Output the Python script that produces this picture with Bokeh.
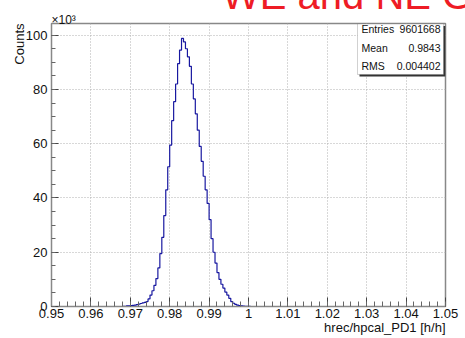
import numpy as np
from bokeh.plotting import figure
from bokeh.models import BoxAnnotation, FixedTicker, Range1d, Title, Div, Label
from bokeh.layouts import column
from bokeh.embed import file_html
from bokeh.resources import INLINE

# ---- data (counts in units of 10^3), histogram 0.95..1.05, bin width 0.0005 ----
x_lo, x_hi, bin_w = 0.95, 1.05, 0.0005
peak_lo = 0.968  # first bin centre with visible content
peak_counts = [0.1, 0.1, 0.2, 0.2, 0.3, 0.4, 0.5, 0.7, 0.9, 1.1,
               1.3, 1.5, 1.8, 2.8, 4.2, 5.8, 7.8, 10.3, 14.2, 19.5,
               25.5, 33.5, 43.0, 51.5, 59.5, 68.5, 75.5, 82.0, 89.5, 94.5,
               98.8, 97.5, 95.0, 92.0, 88.5, 82.0, 76.5, 71.0, 65.0, 59.0,
               53.5, 48.0, 43.0, 38.0, 32.0, 25.0, 20.0, 16.0, 12.5, 10.0,
               8.2, 6.8, 5.3, 4.2, 3.0, 1.8, 1.2, 0.8, 0.5, 0.35,
               0.25, 0.15, 0.1, 0.08, 0.05]
x_ticks = [0.95, 0.96, 0.97, 0.98, 0.99, 1.0, 1.01, 1.02, 1.03, 1.04, 1.05]
x_tick_labels = ["0.95", "0.96", "0.97", "0.98", "0.99", "1", "1.01", "1.02", "1.03", "1.04", "1.05"]
y_ticks = [0, 20, 40, 60, 80, 100]
stats_names = ["Entries", "Mean", "RMS"]
stats_values = ["9601668", "0.9843", "0.004402"]
x_title = "hrec/hpcal_PD1 [h/h]"
y_title = "Counts"
y_scale_text = "×10³"
banner_text = "WE and NE G"

centres = np.round(np.arange(x_lo + bin_w / 2, x_hi, bin_w), 6)
counts = np.zeros(len(centres))
i0 = int(round((peak_lo - x_lo) / bin_w))
counts[i0:i0 + len(peak_counts)] = peak_counts

FONT = "Liberation Sans"
Y_TOP = 104.3

p = figure(width=465, height=326, output_backend="svg", toolbar_location=None,
           x_range=Range1d(x_lo, x_hi), y_range=Range1d(0, Y_TOP),
           min_border_left=51, min_border_right=20, min_border_top=11, min_border_bottom=32)
p.outline_line_color = "#888888"
p.outline_line_width = 1.5
p.background_fill_color = "white"
p.border_fill_color = "white"

p.step(centres, counts, mode="center", line_color="#1818a0", line_width=1.2)

# axes
for ax in (p.xaxis[0], p.yaxis[0]):
    ax.axis_line_color = "#888888"
    ax.major_tick_out = 0
    ax.minor_tick_out = 0
    ax.major_tick_line_color = "#444444"
    ax.minor_tick_line_color = "#666666"
    ax.major_label_text_font = FONT
    ax.major_label_text_font_size = "13px"
    ax.major_label_text_color = "#111111"
p.xaxis.ticker = FixedTicker(ticks=x_ticks, minor_ticks=list(np.round(np.arange(0.95, 1.0501, 0.002), 4)))
p.xaxis.major_label_overrides = {t: l for t, l in zip(x_ticks, x_tick_labels)}
p.xaxis.major_tick_in = 9
p.xaxis.minor_tick_in = 5
p.xaxis.major_label_standoff = 2
p.yaxis.ticker = FixedTicker(ticks=y_ticks, minor_ticks=list(range(0, 105, 5)))
p.yaxis.major_tick_in = 7
p.yaxis.minor_tick_in = 4
p.yaxis.major_label_standoff = 4

p.grid.grid_line_color = "#b0b0b0"
p.grid.grid_line_dash = "1 2"
p.grid.grid_line_width = 1

# titles outside the frame
p.add_layout(Title(text=x_title, align="right", vertical_align="top", standoff=-2,
                   text_font=FONT, text_font_size="13px", text_font_style="normal",
                   text_color="#111111"), "below")
p.add_layout(Title(text=y_title, align="right", standoff=-9,
                   text_font=FONT, text_font_size="13px", text_font_style="normal",
                   text_color="#111111"), "left")
p.add_layout(Title(text=y_scale_text, align="left", standoff=-6,
                   text_font=FONT, text_font_size="12px", text_font_style="normal",
                   text_color="#111111"), "above")

# stats box (inside the frame)
def px2x(px):
    return x_lo + (px - 51) / 3940.0

def py2y(py):  # page pixel -> data
    return (306 - py) / 2.7133

p.add_layout(BoxAnnotation(left=px2x(359), right=px2x(445), top=py2y(25.5), bottom=py2y(76),
                           fill_color="#333333", fill_alpha=1, line_alpha=0))
p.add_layout(BoxAnnotation(left=px2x(357), right=px2x(443), top=py2y(23.5), bottom=py2y(74),
                           fill_color="white", fill_alpha=1, line_color="#666666", line_width=1))
for k, (nm, vl) in enumerate(zip(stats_names, stats_values)):
    yy = py2y(29 + 18.5 * k)
    p.add_layout(Label(x=px2x(361), y=yy, text=nm, text_align="left", text_baseline="middle",
                       text_font=FONT, text_font_size="10.5px", text_color="#111111"))
    p.add_layout(Label(x=px2x(440), y=yy, text=vl, text_align="right", text_baseline="middle",
                       text_font=FONT, text_font_size="10.5px", text_color="#111111"))

banner = Div(text=('<div style="position:relative;width:465px;height:12px;overflow:hidden;">'
                   '<span style="position:absolute;left:222px;top:-28px;font-family:\'Liberation Sans\';'
                   'font-size:40px;line-height:46px;color:#ee1c25;white-space:nowrap;">'
                   + banner_text + '</span></div>'),
             width=465, height=12, margin=0, styles={"overflow": "hidden"})

layout = column(banner, p, spacing=0)
open("out.html", "w").write(file_html(layout, INLINE))
